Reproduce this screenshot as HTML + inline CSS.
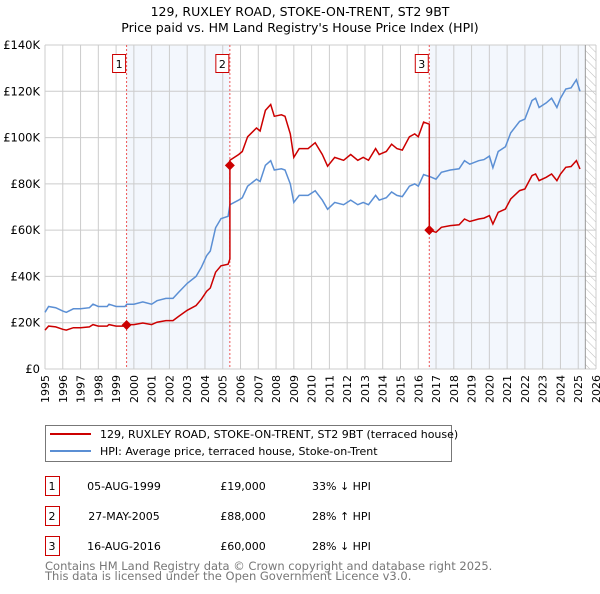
<!DOCTYPE html>
<html><head><meta charset="utf-8"><style>
body{margin:0;background:#fff;width:600px;height:590px;overflow:hidden;font-family:"DejaVu Sans","Liberation Sans",sans-serif;}
svg text{font-family:"DejaVu Sans","Liberation Sans",sans-serif;}
</style></head><body>
<svg id="c" width="600" height="590">
<text x="300" y="16" text-anchor="middle" font-size="12.5">129, RUXLEY ROAD, STOKE-ON-TRENT, ST2 9BT</text>
<text x="300" y="32" text-anchor="middle" font-size="12.5">Price paid vs. HM Land Registry's House Price Index (HPI)</text>
<g id="plot"></g>
<g>
<rect x="45.5" y="425.5" width="406" height="36" fill="#fff" stroke="#777"/>
<line x1="50" y1="434" x2="91" y2="434" stroke="#cc0000" stroke-width="2"/>
<text x="100" y="438" font-size="11">129, RUXLEY ROAD, STOKE-ON-TRENT, ST2 9BT (terraced house)</text>
<line x1="50" y1="451" x2="91" y2="451" stroke="#5b8fd4" stroke-width="2"/>
<text x="100" y="455" font-size="11">HPI: Average price, terraced house, Stoke-on-Trent</text>
</g>
<g id="table" font-size="11"></g>
<text x="45" y="570" font-size="11.5" fill="#777">Contains HM Land Registry data © Crown copyright and database right 2025.</text>
<text x="45" y="580" font-size="11.5" fill="#777">This data is licensed under the Open Government Licence v3.0.</text>
</svg>
<script>
const hpiYears=[1995.0,1995.2,1995.6,1996.0,1996.2,1996.6,1997.0,1997.5,1997.7,1998.0,1998.5,1998.6,1999.0,1999.5,1999.6,2000.0,2000.5,2001.0,2001.3,2001.8,2002.2,2002.5,2003.0,2003.5,2003.8,2004.1,2004.3,2004.6,2004.9,2005.3,2005.4,2005.9,2006.1,2006.4,2006.9,2007.1,2007.4,2007.7,2007.9,2008.3,2008.5,2008.8,2009.0,2009.3,2009.8,2010.2,2010.6,2010.9,2011.3,2011.8,2012.2,2012.6,2012.9,2013.2,2013.6,2013.8,2014.2,2014.5,2014.8,2015.1,2015.5,2015.8,2016.0,2016.3,2016.7,2017.0,2017.3,2017.8,2018.3,2018.6,2018.9,2019.4,2019.7,2020.0,2020.2,2020.5,2020.9,2021.2,2021.7,2022.0,2022.4,2022.6,2022.8,2023.2,2023.5,2023.8,2024.0,2024.3,2024.6,2024.9,2025.1];
const hpiValues=[24.5,27,26.5,25,24.5,26,26,26.5,28,27,27,28,27,27,28,28,29,28,29.5,30.5,30.5,33,37,40,44,49,51,61,65,66,71,73,74,79,82,81,88,90,86,86.5,86,80,72,75,75,77,73,69,72,71,73,71,72,71,75,73,74,76.5,75,74.5,79,80,79,84,83,82,85,86,86.5,90,88.5,90,90.5,92,87,94,96,102,107,108,116,117,113,115,117,113,117,121,121.5,125,120];
const saleYears=[1999.59,2005.4,2016.62];
const salePrices=[19000,88000,60000];
const saleHpi=[27.7,69.3,83.3];
const saleLabels=['1','2','3'];
const saleDates=['05-AUG-1999','27-MAY-2005','16-AUG-2016'];
const salePriceText=['£19,000','£88,000','£60,000'];
const saleDiffText=['33% ↓ HPI','28% ↑ HPI','28% ↓ HPI'];
const yTicks=[0,20000,40000,60000,80000,100000,120000,140000];
const yTickLabels=['£0','£20K','£40K','£60K','£80K','£100K','£120K','£140K'];
const xTicks=[];for(let y=1995;y<=2026;y++)xTicks.push(y);

const X0=45,X1=596,Y0=369,Y1=45;
const sx=y=>X0+(y-1995)/(2026-1995)*(X1-X0);
const sy=v=>Y0-v/140000*(Y0-Y1);
const NS='http://www.w3.org/2000/svg';
const g=document.getElementById('plot');
function mk(t,a,p){const e=document.createElementNS(NS,t);for(const k in a)e.setAttribute(k,a[k]);(p||g).appendChild(e);return e;}
// shading
let s1=mk('rect',{x:sx(saleYears[0]),y:Y1,width:sx(saleYears[1])-sx(saleYears[0]),height:Y0-Y1,fill:'#eef3fc',opacity:0.7});


let s2=mk('rect',{x:sx(saleYears[2]),y:Y1,width:sx(2025.4)-sx(saleYears[2]),height:Y0-Y1,fill:'#eef3fc',opacity:0.7});


// hatch
const defs=mk('defs',{});
const pat=mk('pattern',{id:'h',width:6,height:6,patternUnits:'userSpaceOnUse',patternTransform:'rotate(-45)'},defs);
mk('line',{x1:0,y1:0,x2:0,y2:6,stroke:'#bbb','stroke-width':1},pat);
let hr=mk('rect',{x:sx(2025.4),y:Y1,width:X1-sx(2025.4),height:Y0-Y1,fill:'url(#h)'});


// grid
xTicks.forEach(t=>{let l=mk('line',{x1:sx(t),y1:Y1,x2:sx(t),y2:Y0,stroke:'#ccc','stroke-width':1});


let tx=mk('text',{x:0,y:0,'font-size':11,'text-anchor':'end',transform:`translate(${sx(t)+4},${Y0+6}) rotate(-90)`});tx.textContent=t;

});
yTicks.forEach((t,i)=>{let l=mk('line',{x1:X0,y1:sy(t),x2:X1,y2:sy(t),stroke:'#ccc','stroke-width':1});


let tx=mk('text',{x:40,y:sy(t)+4,'font-size':11.5,'text-anchor':'end'});tx.textContent=yTickLabels[i];

});
let hl=mk('line',{x1:sx(2025.4),y1:Y1,x2:sx(2025.4),y2:Y0,stroke:'#999','stroke-width':1});


// sale vlines + labels
saleYears.forEach((y,i)=>{let l=mk('line',{x1:sx(y),y1:Y1,x2:sx(y),y2:Y0,stroke:'#e55','stroke-width':1,'stroke-dasharray':'2,2'});


let b=mk('rect',{x:sx(y)-14,y:54.5,width:13,height:18,fill:'#fff',stroke:'#c00'});


let t=mk('text',{x:sx(y)-7.5,y:68,'font-size':11,'text-anchor':'middle'});t.textContent=saleLabels[i];

});
// hpi line
const hp=hpiYears.map((y,i)=>sx(y).toFixed(1)+','+sy(hpiValues[i]*1000).toFixed(1)).join(' ');
let hl2=mk('polyline',{points:hp,fill:'none',stroke:'#5b8fd4','stroke-width':1.5});


// property line: HPI indexed to latest sale
function seg(i){return salePrices[i]/(saleHpi[i]*1000);}
let pts=[];
hpiYears.forEach((y,i)=>{let k=0;for(let j=0;j<saleYears.length;j++)if(y>=saleYears[j])k=j;
if(i>0){for(let j=0;j<saleYears.length;j++){if(hpiYears[i-1]<saleYears[j]&&y>=saleYears[j]){const pr=salePrices[j-1]!==undefined?saleHpi[j]*1000*seg(Math.max(0,j-1)):salePrices[j];pts.push([saleYears[j],pr]);pts.push([saleYears[j],salePrices[j]]);}}}
pts.push([y,hpiValues[i]*1000*seg(k)]);});
let rl=mk('polyline',{points:pts.map(p=>sx(p[0]).toFixed(1)+','+sy(p[1]).toFixed(1)).join(' '),fill:'none',stroke:'#cc0000','stroke-width':1.5});


saleYears.forEach((y,i)=>{const cx=sx(y),cy=sy(salePrices[i]);let d=mk('path',{d:`M${cx},${cy-5}L${cx+5},${cy}L${cx},${cy+5}L${cx-5},${cy}Z`,fill:'#cc0000'});

});
// table
const tb=document.getElementById('table');
saleYears.forEach((y,i)=>{const ty=476+i*30;
let b=mk('rect',{x:45.5,y:ty+0.5,width:14,height:19,fill:'none',stroke:'#c00'},tb);


const cols=[[52,saleLabels[i],'middle'],[124,saleDates[i],'middle'],[243,salePriceText[i],'middle'],[312,saleDiffText[i],'start']];
cols.forEach(c=>{let t=mk('text',{x:c[0],y:ty+14,'text-anchor':c[2]},tb);t.textContent=c[1];

});});
</script>
</body></html>
